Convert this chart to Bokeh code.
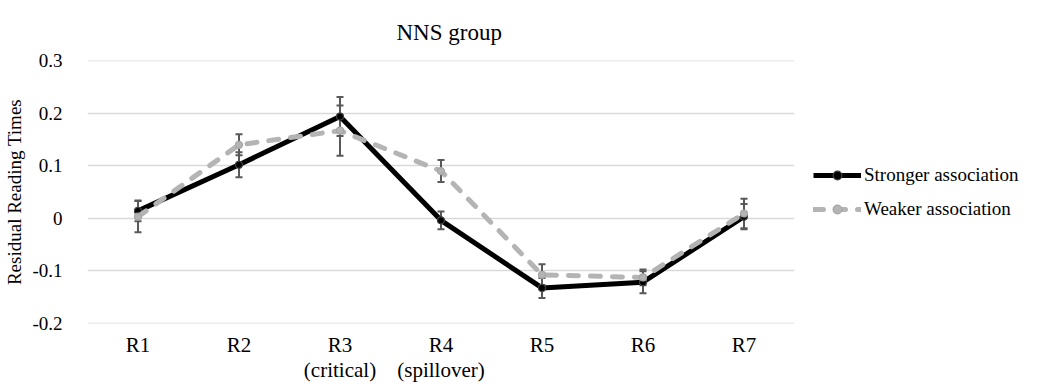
from bokeh.plotting import figure
from bokeh.models import (FactorRange, Range1d, FixedTicker, NumeralTickFormatter,
                          Whisker, TeeHead, ColumnDataSource, Legend, LegendItem)
from bokeh.embed import file_html
from bokeh.resources import INLINE

# ---- data ----
categories = ["R1", "R2", "R3\n(critical)", "R4\n(spillover)", "R5", "R6", "R7"]
stronger = [0.014, 0.102, 0.194, -0.004, -0.133, -0.122, 0.003]
stronger_err = [0.020, 0.024, 0.037, 0.017, 0.019, 0.021, 0.024]
weaker = [0.003, 0.140, 0.167, 0.090, -0.108, -0.113, 0.009]
weaker_err = [0.030, 0.020, 0.048, 0.021, 0.020, 0.015, 0.028]
y_ticks = [-0.2, -0.1, 0, 0.1, 0.2, 0.3]

FONT = "Liberation Serif"

src_s = ColumnDataSource(dict(x=categories, y=stronger,
                              lo=[v - e for v, e in zip(stronger, stronger_err)],
                              hi=[v + e for v, e in zip(stronger, stronger_err)]))
src_w = ColumnDataSource(dict(x=categories, y=weaker,
                              lo=[v - e for v, e in zip(weaker, weaker_err)],
                              hi=[v + e for v, e in zip(weaker, weaker_err)]))

p = figure(x_range=FactorRange(*categories), y_range=Range1d(-0.2008, 0.3008),
           frame_width=707, frame_height=263, output_backend="svg", toolbar_location=None,
           min_border_left=87, min_border_right=0, min_border_top=60, min_border_bottom=47,
           title="NNS group")
p.outline_line_color = None
p.background_fill_color = "white"

p.title.text_font = FONT
p.title.text_font_size = "23px"
p.title.text_font_style = "normal"
p.title.align = "left"
p.title.offset = 309
p.title.standoff = 32
p.title.text_color = "#000000"

# y axis
p.yaxis.ticker = FixedTicker(ticks=y_ticks)
p.yaxis.formatter = NumeralTickFormatter(format="0.[0]")
p.yaxis.axis_line_color = None
p.yaxis.major_tick_line_color = None
p.yaxis.minor_tick_line_color = None
p.yaxis.major_label_standoff = 19
p.yaxis.major_label_text_font = FONT
p.yaxis.major_label_text_font_size = "19px"
p.yaxis.major_label_text_color = "#000000"
p.yaxis.axis_label = "Residual Reading Times"
p.yaxis.axis_label_text_font = FONT
p.yaxis.axis_label_text_font_size = "19px"
p.yaxis.axis_label_text_font_style = "normal"
p.yaxis.axis_label_text_color = "#000000"
p.yaxis.axis_label_standoff = 4

# x axis
p.xaxis.axis_line_color = None
p.xaxis.major_tick_line_color = None
p.xaxis.minor_tick_line_color = None
p.xaxis.major_label_standoff = 3
p.xaxis.major_label_text_font = FONT
p.xaxis.major_label_text_font_size = "21px"
p.xaxis.major_label_text_color = "#000000"
p.xaxis.major_label_text_line_height = 1.05

p.xgrid.grid_line_color = None
p.ygrid.grid_line_color = "#d9d9d9"
p.ygrid.grid_line_width = 1.5

ERR = "#595959"

# stronger series
l_s = p.line("x", "y", source=src_s, line_color="black", line_width=5, line_join="round")
w_s = Whisker(base="x", lower="lo", upper="hi", source=src_s, line_color=ERR, line_width=2,
              upper_head=TeeHead(size=7, line_color=ERR, line_width=2),
              lower_head=TeeHead(size=7, line_color=ERR, line_width=2))
p.add_layout(w_s)
m_s = p.scatter("x", "y", source=src_s, size=7, fill_color="black", line_color="#404040", line_width=1.2)

# weaker series
l_w = p.line("x", "y", source=src_w, line_color="#b4b4b4", line_width=5, line_dash="10 12",
             line_cap="round", line_join="round")
w_w = Whisker(base="x", lower="lo", upper="hi", source=src_w, line_color=ERR, line_width=2,
              upper_head=TeeHead(size=7, line_color=ERR, line_width=2),
              lower_head=TeeHead(size=7, line_color=ERR, line_width=2))
p.add_layout(w_w)
m_w = p.scatter("x", "y", source=src_w, size=7, fill_color="#b4b4b4", line_color="#a6a6a6", line_width=1.2)

legend = Legend(items=[LegendItem(label="Stronger association", renderers=[l_s, m_s]),
                       LegendItem(label="Weaker association", renderers=[l_w, m_w])],
                location="center_left", orientation="vertical")
legend.label_text_font = FONT
legend.label_text_font_size = "19px"
legend.label_text_color = "#000000"
legend.label_standoff = 3
legend.glyph_width = 48
legend.glyph_height = 22
legend.spacing = 12
legend.border_line_color = None
legend.background_fill_alpha = 0
legend.padding = 0
legend.margin = 19
p.add_layout(legend, "right")

open("out.html", "w").write(file_html(p, INLINE))
